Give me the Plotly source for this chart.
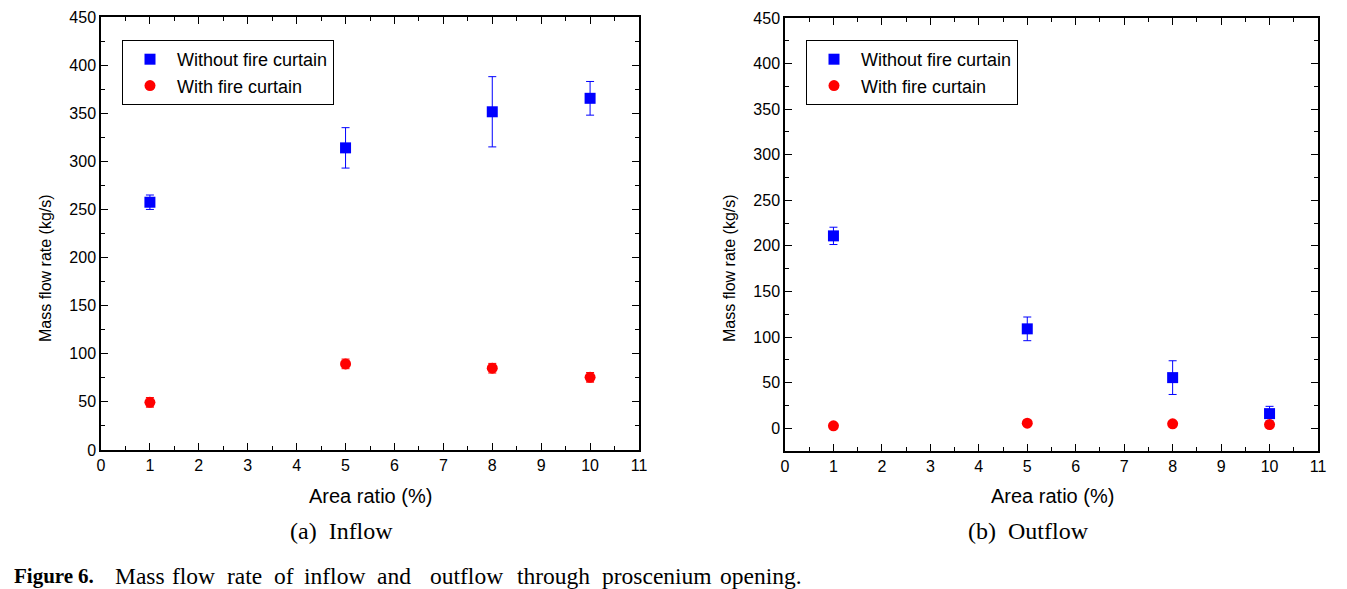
import plotly.graph_objects as go

W, H = 1347, 589

# ---------------- data ----------------
area_ratio = [1, 5, 8, 10]

inflow_without = [257.5, 314, 351.5, 365.5]
inflow_without_err = [7.5, 21, 36.5, 17.5]
inflow_with = [49.5, 89.5, 85, 75.5]
inflow_with_err = [5, 5, 5, 5]

outflow_without = [211, 109, 55.5, 16]
outflow_without_err = [9.5, 13, 18.5, 8]
outflow_with = [2.6, 5.5, 4.8, 4]
outflow_with_err = [2, 2, 2, 2]

series_names = ["Without fire curtain", "With fire curtain"]
x_ticks = list(range(0, 12))
x_title = "Area ratio (%)"
y_title = "Mass flow rate (kg/s)"
subcaptions = ["(a)  Inflow", "(b)  Outflow"]
caption_words = ["Figure", "6.", "Mass", "flow", "rate", "of", "inflow", "and",
                 "outflow", "through", "proscenium", "opening."]
caption_x = [12, 76, 113, 170, 225, 272, 302, 375, 428, 515, 600, 718]

BLUE = "#0000ff"
RED = "#ff0000"


def px_x(p):
    return p / W


def px_y(p):
    return 1 - p / H


fig = go.Figure()

panels = [
    dict(xa="x", ya="y", wo=inflow_without, woe=inflow_without_err,
         wi=inflow_with, wie=inflow_with_err, legend="legend"),
    dict(xa="x2", ya="y2", wo=outflow_without, woe=outflow_without_err,
         wi=outflow_with, wie=outflow_with_err, legend="legend2"),
]

for p in panels:
    fig.add_trace(go.Scatter(
        x=area_ratio, y=p["wo"], mode="markers", name=series_names[0],
        marker=dict(symbol="square", size=11, color=BLUE),
        error_y=dict(type="data", array=p["woe"], visible=True,
                     color=BLUE, thickness=1, width=4),
        xaxis=p["xa"], yaxis=p["ya"], legend=p["legend"]))
    fig.add_trace(go.Scatter(
        x=area_ratio, y=p["wi"], mode="markers", name=series_names[1],
        marker=dict(symbol="circle", size=11, color=RED),
        error_y=dict(type="data", array=p["wie"], visible=True,
                     color=RED, thickness=1, width=4),
        xaxis=p["xa"], yaxis=p["ya"], legend=p["legend"]))

axis_common = dict(
    showline=True, linecolor="black", linewidth=1.5, mirror="ticks",
    ticks="inside", ticklen=7, tickwidth=1.2, tickcolor="black",
    showgrid=False, zeroline=False, automargin=False,
    tickfont=dict(family="Liberation Sans, Arial", size=16, color="black"),
)

xaxis_common = dict(axis_common, range=[0, 11], tickmode="array",
                    tickvals=x_ticks, ticktext=[str(v) for v in x_ticks],
                    minor=dict(ticks="inside", dtick=0.5, tick0=0, ticklen=4,
                               tickcolor="black", tickwidth=1))

legend_common = dict(xanchor="left", yanchor="top",
                     bordercolor="black", borderwidth=1, bgcolor="white",
                     font=dict(family="Liberation Sans, Arial", size=18,
                               color="black"),
                     itemwidth=44, tracegroupgap=0)

fig.update_layout(
    width=W, height=H,
    margin=dict(l=0, r=0, t=0, b=0, pad=0, autoexpand=False),
    paper_bgcolor="white", plot_bgcolor="white",
    xaxis=dict(xaxis_common, domain=[px_x(101), px_x(639)], anchor="y"),
    yaxis=dict(axis_common, domain=[px_y(450), px_y(17)], anchor="x",
               range=[0, 450], tick0=0, dtick=50,
               minor=dict(ticks="inside", dtick=25, tick0=0, ticklen=4,
                          tickcolor="black", tickwidth=1)),
    xaxis2=dict(xaxis_common, domain=[px_x(785), px_x(1318)], anchor="y2"),
    yaxis2=dict(axis_common, domain=[px_y(451), px_y(18)], anchor="x2",
                range=[-25, 450], tick0=0, dtick=50,
                minor=dict(ticks="inside", dtick=25, tick0=0, ticklen=4,
                           tickcolor="black", tickwidth=1)),
    legend=dict(legend_common, x=px_x(122), y=px_y(40)),
    legend2=dict(legend_common, x=px_x(806), y=px_y(40)),
    showlegend=True,
)

annotations = []
panel_centers = [(370, 45), (1052, 729)]
sub_centers = [341, 1028]
for i, (cx, ytx) in enumerate(panel_centers):
    annotations.append(dict(
        text=x_title, x=px_x(cx), y=px_y(496), xref="paper", yref="paper",
        xanchor="center", yanchor="middle", showarrow=False,
        font=dict(family="Liberation Sans, Arial", size=20, color="black")))
    annotations.append(dict(
        text=y_title, x=px_x(ytx), y=px_y(268), xref="paper", yref="paper",
        xanchor="center", yanchor="middle", showarrow=False, textangle=-90,
        font=dict(family="Liberation Sans, Arial", size=16, color="black")))
    annotations.append(dict(
        text=subcaptions[i], x=px_x(sub_centers[i]), y=px_y(531),
        xref="paper", yref="paper", xanchor="center", yanchor="middle",
        showarrow=False,
        font=dict(family="Liberation Serif, Times New Roman", size=24,
                  color="black")))

for j, (wd, xw) in enumerate(zip(caption_words, caption_x)):
    bold = j < 2
    txt = f"<b>{wd}</b>" if bold else wd
    annotations.append(dict(
        text=txt, x=px_x(xw), y=px_y(576), xref="paper", yref="paper",
        xanchor="left", yanchor="middle", showarrow=False,
        font=dict(family="Liberation Serif, Times New Roman",
                  size=21 if bold else 23.5, color="black")))

fig.update_layout(annotations=annotations)

fig.write_html("out.html",
               config={"displayModeBar": False},
               post_script="document.body.style.margin='0';"
                           "document.body.style.overflow='hidden';")
